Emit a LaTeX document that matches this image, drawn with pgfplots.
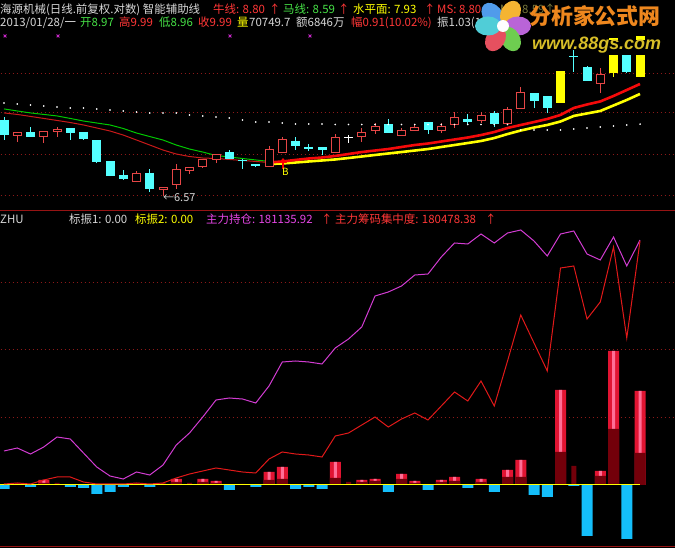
\documentclass[border=0pt]{standalone}
\usepackage{pgfplots}
\pgfplotsset{compat=1.18}
\usepackage{pgfplotstable}
\usepackage{fontspec}
\setmainfont{Noto Sans CJK SC}
\newfontfamily\lib{Liberation Sans}
\usetikzlibrary{arrows.meta}

\definecolor{cRed}{RGB}{230,70,70}
\definecolor{cCyan}{RGB}{84,255,255}
\definecolor{cYel}{RGB}{255,255,0}
\definecolor{tWhite}{RGB}{215,215,215}
\definecolor{tRed}{RGB}{255,55,55}
\definecolor{tGreen}{RGB}{70,225,70}
\definecolor{tMag}{RGB}{230,70,230}
\definecolor{tDim}{RGB}{120,120,60}
\definecolor{gridc}{RGB}{140,25,25}
\definecolor{sepc}{RGB}{150,20,20}
\definecolor{lGreen}{RGB}{0,200,0}
\definecolor{lRedThin}{RGB}{200,25,25}
\definecolor{lRedThick}{RGB}{245,10,10}
\definecolor{barRed}{RGB}{225,20,50}
\definecolor{barPink}{RGB}{255,110,150}
\definecolor{barDark}{RGB}{115,0,10}
\definecolor{barCyan}{RGB}{20,190,250}
\definecolor{lMag}{RGB}{210,60,210}
\definecolor{lRed}{RGB}{225,25,25}
\definecolor{xMag}{RGB}{200,40,200}
\definecolor{logoOr}{RGB}{238,135,30}
\definecolor{logoY}{RGB}{215,190,40}
\definecolor{fBlue}{RGB}{80,155,235}
\definecolor{fOr}{RGB}{245,180,50}
\definecolor{fPur}{RGB}{185,100,215}
\definecolor{fGr}{RGB}{110,205,80}
\definecolor{fRd}{RGB}{230,80,95}
\definecolor{fTe}{RGB}{80,205,215}

\newcommand{\hf}{\fontsize{11.5}{13}\selectfont}

% ---------- upper panel (prices, log scale) ----------
\pgfplotstableread{
i o h l c
2 7.69 7.77 7.57 7.77
4 7.67 7.79 7.55 7.79
5 7.77 7.87 7.67 7.83
11 6.81 7.01 6.81 6.98
13 6.67 6.72 6.57 6.72
14 6.76 7.14 6.69 7.05
15 7.01 7.09 6.96 7.09
16 7.09 7.24 7.07 7.24
17 7.22 7.33 7.16 7.33
21 7.09 7.49 7.09 7.43
22 7.35 7.67 7.35 7.63
26 7.35 7.73 7.35 7.67
28 7.67 7.85 7.57 7.77
29 7.79 7.95 7.73 7.89
31 7.69 7.85 7.69 7.81
32 7.79 7.91 7.79 7.87
34 7.79 7.95 7.75 7.89
35 7.91 8.19 7.85 8.08
37 7.99 8.19 7.95 8.12
39 7.93 8.29 7.93 8.25
40 8.25 8.74 8.25 8.63
46 8.81 9.18 8.60 9.04
}\upT

\pgfplotstableread{
i o h l c
1 8.02 8.08 7.61 7.71
3 7.77 7.87 7.67 7.67
6 7.85 7.85 7.61 7.75
7 7.77 7.77 7.61 7.63
8 7.61 7.61 7.16 7.18
9 7.20 7.20 6.92 6.92
10 6.94 7.03 6.85 6.87
12 6.98 7.05 6.64 6.69
18 7.37 7.41 7.24 7.24
19 7.21 7.24 7.05 7.19
20 7.14 7.14 7.09 7.11
23 7.59 7.67 7.41 7.49
24 7.47 7.53 7.39 7.43
25 7.47 7.47 7.31 7.41
30 7.93 8.04 7.75 7.75
33 7.97 7.97 7.73 7.81
36 8.04 8.14 7.93 7.97
38 8.16 8.21 7.87 7.93
41 8.60 8.60 8.27 8.42
42 8.53 8.53 8.16 8.27
44 9.47 9.63 9.09 9.44
45 9.21 9.23 8.88 8.88
48 9.55 9.70 9.06 9.08
}\downT

\pgfplotstableread{
i o h l c
43 8.38 9.10 8.38 9.10
47 9.06 9.94 8.97 9.94
49 8.97 9.99 8.96 9.99
}\limT

\pgfplotstableread{
i p
1 8.380
2 8.358
3 8.336
4 8.314
5 8.293
6 8.271
7 8.271
8 8.250
9 8.228
10 8.206
11 8.185
12 8.164
13 8.164
14 8.164
15 8.121
16 8.100
17 8.079
18 8.058
19 8.015
20 7.973
21 7.973
22 7.952
23 7.932
24 7.932
25 7.932
26 7.922
27 7.922
28 7.922
29 7.922
30 7.922
31 7.922
32 7.922
33 7.922
34 7.922
35 7.922
36 7.922
37 7.922
38 7.922
39 7.922
40 7.808
41 7.808
42 7.808
43 7.808
44 7.830
45 7.850
46 7.870
47 7.890
48 7.910
49 7.930
}\levelT

\pgfplotstableread{
i g r
1 8.250 8.164
2 8.206 8.132
3 8.164 8.090
4 8.132 8.047
5 8.100 8.005
6 8.047 7.963
7 7.994 7.911
8 7.952 7.849
9 7.911 7.788
10 7.839 7.706
11 7.747 7.606
12 7.676 7.507
13 7.606 7.409
14 7.507 7.332
15 7.428 7.284
16 7.370 7.256
17 7.303 7.246
18 7.275 7.228
19 7.246 7.209
20 7.218 7.190
21 7.190 7.171
}\thinT

\pgfplotstableread{
i r y
21 7.171 7.143
22 7.190 7.152
23 7.218 7.171
24 7.246 7.190
25 7.265 7.209
26 7.294 7.228
27 7.332 7.256
28 7.370 7.284
29 7.399 7.313
30 7.428 7.342
31 7.468 7.370
32 7.507 7.399
33 7.536 7.428
34 7.576 7.468
35 7.616 7.507
36 7.656 7.546
37 7.706 7.586
38 7.767 7.646
39 7.849 7.726
40 7.911 7.798
41 7.973 7.859
42 8.036 7.911
43 8.121 7.984
44 8.271 8.100
45 8.347 8.153
46 8.413 8.206
47 8.535 8.325
48 8.670 8.446
49 8.807 8.580
}\thickT

% ---------- lower panel ----------
\pgfplotstableread{
i m r
1 25143 740
2 27362 1479
3 22925 740
4 28101 3698
5 35496 5916
6 34017 5916
7 23664 2219
8 13311 740
9 6656 740
10 4437 740
11 9614 1479
12 7395 740
13 14790 1479
14 29580 5177
15 38454 8135
16 50286 10353
17 62858 12572
18 64337 11093
19 63597 9614
20 60639 8874
21 73211 19227
22 90959 24404
23 91698 22925
24 90959 22185
25 89480 20706
26 101312 36236
27 107967 38454
28 116841 44370
29 139766 50286
30 142724 42891
31 147161 48807
32 155295 53244
33 156035 48068
34 168606 58421
35 178959 68774
36 178220 62118
37 185615 76908
38 178959 58421
39 186354 91698
40 188573 125715
41 180438 105009
42 169346 84303
43 185615 160472
44 187833 161951
45 170825 122757
46 166388 135329
47 183396 176001
48 161951 108707
49 181135.92 180478.38
}\lineT

\pgfplotstableread{
i v d
4 3698 1479
14 4437 2219
16 4437 2219
17 2958 1479
21 9614 3698
22 13311 4437
26 17009 5177
28 3698 2219
29 4437 2958
31 8135 4437
32 2958 1479
34 3698 2219
35 5916 2958
37 4437 2219
39 11093 5916
40 18488 5916
43 70253 24404
46 10353 6656
47 99093 41412
49 69513 23664
}\redB

\pgfplotstableread{
i v
2 1479
5 1479
11 1479
13 1479
15 1479
19 740
27 2219
44 14051
}\darkB

\pgfplotstableread{
i v
1 -2958
3 -1479
6 -1479
7 -2219
8 -6656
9 -5177
10 -1479
12 -1479
18 -3698
20 -1479
23 -2958
24 -1479
25 -2958
30 -5177
33 -3698
36 -2219
38 -5177
41 -7395
42 -8874
44 -740
45 -37715
48 -39933
}\cyanB

% draw candles of a table: #1 table, #2 colour, #3 = 1 for hollow body
\newcommand{\drawcandles}[3]{%
  \pgfplotstablegetrowsof{#1}%
  \pgfmathtruncatemacro{\nlast}{\pgfplotsretval-1}%
  \foreach \k in {0,...,\nlast}{%
    \pgfplotstablegetelem{\k}{i}\of{#1}\let\ci\pgfplotsretval
    \pgfplotstablegetelem{\k}{o}\of{#1}\let\co\pgfplotsretval
    \pgfplotstablegetelem{\k}{h}\of{#1}\let\ch\pgfplotsretval
    \pgfplotstablegetelem{\k}{l}\of{#1}\let\cl\pgfplotsretval
    \pgfplotstablegetelem{\k}{c}\of{#1}\let\cc\pgfplotsretval
    \edef\tmp{%
      \noexpand\addplot[#2, line width=1bp, mark=none, forget plot] coordinates {(\ci,\cl)(\ci,\ch)};
      \noexpand\addplot[#2, line width=9bp, mark=none, forget plot] coordinates {(\ci,\co)(\ci,\cc)};
    }\tmp
    \ifnum#3=1
      \pgfmathparse{\co*1.0027}\let\coi\pgfmathresult
      \pgfmathparse{\cc/1.0027}\let\cci\pgfmathresult
      \edef\tmp{%
        \noexpand\addplot[black, line width=7bp, mark=none, forget plot] coordinates {(\ci,\coi)(\ci,\cci)};
      }\tmp
    \fi
  }%
}

\begin{document}
\begin{tikzpicture}
\useasboundingbox (0bp,0bp) rectangle (675bp,548bp);
\fill[black] (0bp,0bp) rectangle (675bp,548bp);

% ================= upper panel =================
\begin{axis}[
  at={(0bp,338bp)}, anchor=south west,
  width=675bp, height=182bp, scale only axis,
  xmin=0.698, xmax=51.64,
  ymode=log, ymin=6.332, ymax=10.198,
  hide axis,
]
\addplot[gridc, line width=0.9bp, dash pattern=on 1bp off 3bp, forget plot] coordinates {(0.75,9.064)(51.6,9.064)};
\addplot[gridc, line width=0.9bp, dash pattern=on 1bp off 3bp, forget plot] coordinates {(0.75,8.164)(51.6,8.164)};
\addplot[gridc, line width=0.9bp, dash pattern=on 1bp off 3bp, forget plot] coordinates {(0.75,7.332)(51.6,7.332)};
\addplot[gridc, line width=0.9bp, dash pattern=on 1bp off 3bp, forget plot] coordinates {(0.75,6.570)(51.6,6.570)};
\addplot[lGreen, line width=1bp, mark=none] table[x=i,y=g]{\thinT};
\addplot[lRedThin, line width=1bp, mark=none] table[x=i,y=r]{\thinT};
\addplot[cYel, line width=2.6bp, mark=none] table[x=i,y=y]{\thickT};
\addplot[lRedThick, line width=2.6bp, mark=none] table[x=i,y=r]{\thickT};
\addplot[only marks, mark=*, mark size=0.6bp, white, mark options={draw=none, fill=white}] table[x=i,y=p]{\levelT};
\addplot[only marks, mark=x, mark size=2bp, xMag, line width=0.9bp] coordinates {(1.08,9.987)(5.08,9.987)(18.06,9.987)(24.09,9.987)};
\drawcandles{\upT}{cRed}{1}
\drawcandles{\downT}{cCyan}{0}
\drawcandles{\limT}{cYel}{0}
\addplot[white, line width=1bp, mark=none, forget plot] coordinates {(27,7.55)(27,7.71)};
\addplot[white, line width=1.2bp, mark=none, forget plot] coordinates {(26.66,7.65)(27.34,7.65)};
\end{axis}

% ================= lower panel =================
\begin{axis}[
  at={(0bp,2bp)}, anchor=south west,
  width=675bp, height=334bp, scale only axis,
  xmin=0.698, xmax=51.64,
  ymin=-45110, ymax=201884,
  hide axis,
]
\addplot[gridc, line width=0.9bp, dash pattern=on 1bp off 3bp, forget plot] coordinates {(0.75,50000)(51.6,50000)};
\addplot[gridc, line width=0.9bp, dash pattern=on 1bp off 3bp, forget plot] coordinates {(0.75,100000)(51.6,100000)};
\addplot[gridc, line width=0.9bp, dash pattern=on 1bp off 3bp, forget plot] coordinates {(0.75,150000)(51.6,150000)};
\addplot[ybar, bar width=11bp, bar shift=0pt, fill=barRed, draw=none] table[x=i,y=v]{\redB};
\addplot[ybar, bar width=3bp, bar shift=0pt, fill=barPink, draw=none] table[x=i,y=v]{\redB};
\addplot[ybar, bar width=11bp, bar shift=0pt, fill=barDark, draw=none] table[x=i,y=d]{\redB};
\addplot[ybar, bar width=5bp, bar shift=0pt, fill=barDark, draw=none] table[x=i,y=v]{\darkB};
\addplot[ybar, bar width=11bp, bar shift=0pt, fill=barCyan, draw=none] table[x=i,y=v]{\cyanB};
\addplot[white, line width=1bp, mark=none] coordinates {(0.72,0)(49,0)};
\addplot[cYel, line width=1bp, mark=none] coordinates {(0.72,0)(49,0)};
\addplot[lMag, line width=1bp, mark=none] table[x=i,y=m]{\lineT};
\addplot[lRed, line width=1bp, mark=none] table[x=i,y=r]{\lineT};
\end{axis}

\begin{scope}[x=1bp,y=1bp]
% annotations of the upper panel
\node[anchor=west, inner sep=0, text=tWhite, font=\fontsize{11}{12}\selectfont] at (163,350.5) {←6.57};
\draw[red, line width=2.4bp, -{Triangle[length=5bp,width=8bp]}] (283,379) -- (283,390);
\node[inner sep=0, text=cYel, font=\fontsize{10}{11}\selectfont] at (285.5,376) {B};

% separators
\draw[sepc, line width=1bp] (0,337) -- (675,337);
\draw[sepc, line width=1bp] (0,1.5) -- (675,1.5);

% header texts
\begin{scope}[every node/.style={anchor=base west, inner sep=0, font=\hf}]
\node[text=tWhite] at (0,534.5) {海源机械(日线.前复权.对数) 智能辅助线};
\node[text=tRed]   at (213,534.5) {牛线: 8.80};
\node[text=tRed]   at (269,534.5) {↑};
\node[text=tGreen] at (283,534.5) {马线: 8.59};
\node[text=tRed]   at (338,534.5) {↑};
\node[text=cYel]   at (353,534.5) {水平面: 7.93};
\node[text=tRed]   at (424,534.5) {↑};
\node[text=tRed]   at (437,534.5) {MS: 8.80};
\node[text=tDim]   at (500,534.5) {MA: 8.59↑};

\node[text=tWhite] at (0,521) {2013/01/28/一};
\node[text=tGreen] at (80,521) {开8.97};
\node[text=tRed]   at (119,521) {高9.99};
\node[text=tGreen] at (159,521) {低8.96};
\node[text=tRed]   at (198,521) {收9.99};
\node[text=cYel]   at (237,521) {量};
\node[text=tWhite] at (249,521) {70749.7};
\node[text=tWhite] at (296,521) {额6846万};
\node[text=tRed]   at (351,521) {幅0.91(10.02\%)};
\node[text=tWhite] at (437,521) {振1.03(11.34\%)};

\node[text=tWhite] at (0,325) {ZHU};
\node[text=tWhite] at (69,325) {标振1: 0.00};
\node[text=cYel]   at (135,325) {标振2: 0.00};
\node[text=tMag]   at (206,325) {主力持仓: 181135.92};
\node[text=tRed]   at (321,325) {↑};
\node[text=tRed]   at (335,325) {主力筹码集中度: 180478.38};
\node[text=tRed]   at (485,325) {↑};
\end{scope}

% watermark logo
\fill[fBlue, rotate around={130:(492.5,533.5)}] (492.5,533.5) ellipse [x radius=13bp, y radius=9.5bp];
\fill[fOr,   rotate around={60:(510.5,535)}] (510.5,535) ellipse [x radius=13bp, y radius=9.5bp];
\fill[fPur,  rotate around={0:(518,522)}] (518,522) ellipse [x radius=13bp, y radius=9.5bp];
\fill[fGr,   rotate around={-60:(510.5,509)}] (510.5,509) ellipse [x radius=13bp, y radius=9.5bp];
\fill[fRd,   rotate around={-120:(495.5,509)}] (495.5,509) ellipse [x radius=13bp, y radius=9.5bp];
\fill[fTe,   rotate around={180:(488,522)}] (488,522) ellipse [x radius=13bp, y radius=9.5bp];
\fill[white] (503,522) circle [radius=6bp];
\fill[black] (600,493) rectangle (664,508);
\node[anchor=base west, inner sep=0, text=logoOr, font=\fontsize{22}{24}\selectfont\bfseries] at (529,523) {分析家公式网};
\node[anchor=base west, inner sep=0, text=logoY, font=\lib\fontsize{18}{20}\selectfont\bfseries\itshape] at (532,498) {www.88gs.com};
\end{scope}
\end{tikzpicture}
\end{document}
